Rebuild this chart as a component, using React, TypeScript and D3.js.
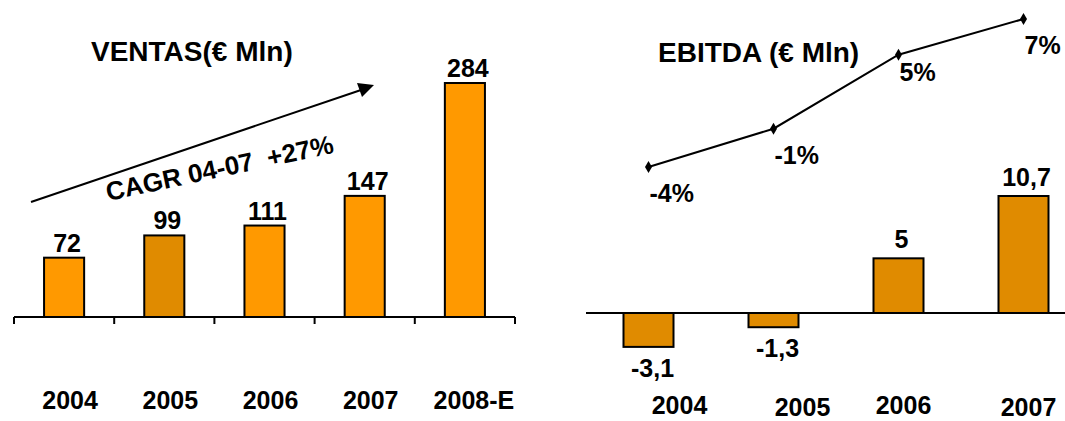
import * as d3 from 'd3';

// VENTAS (left chart)
const salesYears = ['2004', '2005', '2006', '2007', '2008-E'];
const salesValues = [72, 99, 111, 147, 284];

// EBITDA (right chart)
const ebitdaYears = ['2004', '2005', '2006', '2007'];
const ebitdaValues = [-3.1, -1.3, 5, 10.7];
const ebitdaLabels = ['-3,1', '-1,3', '5', '10,7'];
const marginValues = [-4.3, -1.3, 4.5, 7.3];
const marginLabels = ['-4%', '-1%', '5%', '7%'];

const width = 1065;
const height = 421;
const font = '"Liberation Sans", Arial, Helvetica, sans-serif';
const orange = '#ff9900';
const darkOrange = '#e08b00';

// year labels under the EBITDA chart are not evenly placed in the original
const ebitdaYearNudge = [
  [31, 414],
  [29, 416],
  [5, 414],
  [5, 416],
];

const App = (): React.ReactElement => {
  const xL = d3.scaleBand().domain(salesYears).range([14, 515]).paddingInner(0.6).paddingOuter(0.3);
  const yL = d3.scaleLinear().domain([0, 284]).range([317, 83]);

  const xR = d3.scaleBand().domain(ebitdaYears).range([586, 1086]).paddingInner(0.6).paddingOuter(0.3);
  const yR = d3.scaleLinear().domain([0, 10.7]).range([313, 196]);
  const yP = d3.scaleLinear().domain([-4.3, 7.3]).range([167, 19]);

  const tickXs = d3.range(salesYears.length + 1).map((i) => xL.range()[0] + i * xL.step());

  const marginLine = d3
    .line<number>()
    .x((_, i) => (xR(ebitdaYears[i]) ?? 0) + xR.bandwidth() / 2)
    .y((d) => yP(d));

  return (
    <svg
      width={width}
      height={height}
      style={{ position: 'absolute', left: 0, top: 0, background: '#fff' }}
      fontFamily={font}
      fontWeight="bold"
    >
      {/* ---------- VENTAS ---------- */}
      <text x={91} y={61} fontSize={28}>
        VENTAS(€ Mln)
      </text>

      {salesValues.map((v, i) => (
        <rect
          key={'s' + i}
          x={xL(salesYears[i])}
          y={yL(v)}
          width={xL.bandwidth()}
          height={yL(0) - yL(v)}
          fill={i === 1 ? darkOrange : orange}
          stroke="#000"
          strokeWidth={2}
        />
      ))}

      <line x1={tickXs[0]} x2={tickXs[tickXs.length - 1]} y1={yL(0)} y2={yL(0)} stroke="#000" strokeWidth={2} />
      {tickXs.map((x, i) => (
        <line key={'t' + i} x1={x} x2={x} y1={yL(0)} y2={yL(0) + 7} stroke="#000" strokeWidth={2} />
      ))}

      {salesValues.map((v, i) => (
        <text
          key={'sv' + i}
          x={(xL(salesYears[i]) ?? 0) + xL.bandwidth() / 2 + 3}
          y={yL(v) - 6}
          fontSize={25}
          textAnchor="middle"
        >
          {v}
        </text>
      ))}

      {salesYears.map((d, i) => (
        <text
          key={'sy' + i}
          x={(xL(d) ?? 0) + xL.bandwidth() / 2 + (i === 4 ? 9 : 6)}
          y={409}
          fontSize={25}
          textAnchor="middle"
        >
          {d}
        </text>
      ))}

      {/* CAGR arrow */}
      <line x1={31} y1={202} x2={361} y2={90} stroke="#000" strokeWidth={2} />
      <path d="M374,85 L357,83 L362,97 Z" fill="#000" />
      <text
        x={108}
        y={201}
        fontSize={26}
        transform="rotate(-12 108 201)"
        style={{ whiteSpace: 'pre' }}
      >
        {'CAGR 04-07  +27%'}
      </text>

      {/* ---------- EBITDA ---------- */}
      <text x={658} y={62} fontSize={28}>
        EBITDA (€ Mln)
      </text>

      {ebitdaValues.map((v, i) => (
        <rect
          key={'e' + i}
          x={xR(ebitdaYears[i])}
          y={Math.min(yR(v), yR(0))}
          width={xR.bandwidth()}
          height={Math.abs(yR(v) - yR(0))}
          fill={darkOrange}
          stroke="#000"
          strokeWidth={2}
        />
      ))}
      <line x1={586} x2={width} y1={yR(0)} y2={yR(0)} stroke="#000" strokeWidth={2} />

      {ebitdaValues.map((v, i) => (
        <text
          key={'ev' + i}
          x={(xR(ebitdaYears[i]) ?? 0) + xR.bandwidth() / 2 + (v < 0 ? 4 : 3)}
          y={v < 0 ? yR(v) + 30 : yR(v) - 10}
          fontSize={25}
          textAnchor="middle"
        >
          {ebitdaLabels[i]}
        </text>
      ))}

      {ebitdaYears.map((d, i) => (
        <text
          key={'ey' + i}
          x={(xR(d) ?? 0) + xR.bandwidth() / 2 + ebitdaYearNudge[i][0]}
          y={ebitdaYearNudge[i][1]}
          fontSize={25}
          textAnchor="middle"
        >
          {d}
        </text>
      ))}

      {/* margin line */}
      <path d={marginLine(marginValues) ?? ''} fill="none" stroke="#000" strokeWidth={2} />
      {marginValues.map((v, i) => {
        const cx = (xR(ebitdaYears[i]) ?? 0) + xR.bandwidth() / 2;
        return (
          <path key={'m' + i} transform={`translate(${cx},${yP(v)})`} d="M0,-6 L3.5,0 L0,6 L-3.5,0 Z" fill="#000" />
        );
      })}
      {marginValues.map((v, i) => (
        <text
          key={'ml' + i}
          x={(xR(ebitdaYears[i]) ?? 0) + xR.bandwidth() / 2 + 1}
          y={yP(v) + (i === 2 ? 26 : 35)}
          fontSize={25}
        >
          {marginLabels[i]}
        </text>
      ))}
    </svg>
  );
};

export default App;
